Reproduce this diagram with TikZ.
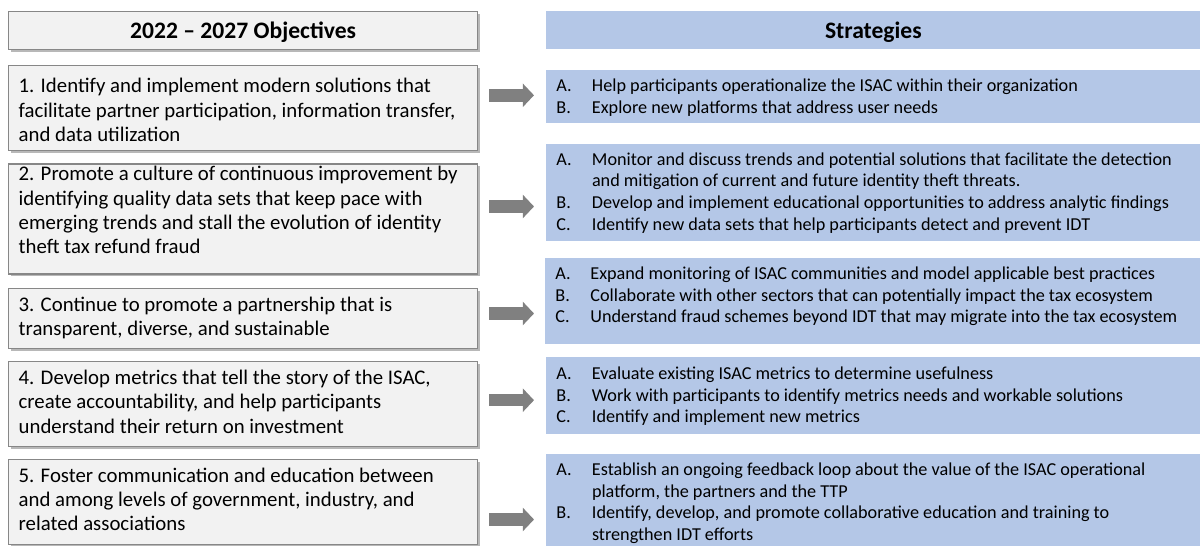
\documentclass[tikz,border=0pt]{standalone}
\usepackage{fontspec}
\setmainfont{Carlito}
\usetikzlibrary{shadows,arrows.meta}
\definecolor{boxfill}{HTML}{F2F2F2}
\definecolor{boxline}{HTML}{878787}
\definecolor{stratfill}{HTML}{B4C7E7}
\definecolor{arrowgray}{HTML}{808080}
\tikzset{
  objbox/.style={draw=boxline, line width=0.65pt, fill=boxfill, anchor=north west, inner sep=0pt,
    drop shadow={shadow xshift=1.2pt, shadow yshift=-1.2pt, fill=black, opacity=0.28}},
  stratbox/.style={fill=stratfill, anchor=north west, inner sep=0pt},
  objtext/.style={anchor=base west, inner sep=0pt, font=\fontsize{10.4}{12.2}\selectfont},
  strattext/.style={anchor=base west, inner sep=0pt, font=\fontsize{9.1}{10.9}\selectfont},
  headtext/.style={inner sep=0pt, font=\fontsize{11.8}{14}\selectfont\bfseries},
  blockarrow/.style={draw=arrowgray, line width=6.2pt, -{Triangle[width=11.5pt, length=5.6pt]}}
}
\begin{document}
\begin{tikzpicture}[x=0.5pt,y=-0.5pt]
\useasboundingbox (0,0) rectangle (1200,546);
% objectives column
\node[objbox, minimum width=234.5pt, minimum height=19pt] (oh) at (8,11) {};
\node[headtext] (ohtext) at ([yshift=-0.8pt]oh.center) {2022 -- 2027 Objectives};
\node[objbox, minimum width=234.5pt, minimum height=42.5pt] (o1) at (8,65) {};
\node[objbox, minimum width=234.5pt, minimum height=55pt] (o2) at (8,163.3) {};
\node[objbox, minimum width=234.5pt, minimum height=30pt] (o3) at (8,287.7) {};
\node[objbox, minimum width=234.5pt, minimum height=42.5pt] (o4) at (8,361) {};
\node[objbox, minimum width=234.5pt, minimum height=42.7pt] (o5) at (8,458.7) {};
\node[objtext] (t1) at (18.3,92.7) {\begin{tabular}[t]{@{}l@{}}1. Identify and implement modern solutions that\\ facilitate partner participation, information transfer,\\ and data utilization\end{tabular}};
\node[objtext] (t2) at (18.3,180.7) {\begin{tabular}[t]{@{}l@{}}2. Promote a culture of continuous improvement by\\ identifying quality data sets that keep pace with\\ emerging trends and stall the evolution of identity\\ theft tax refund fraud\end{tabular}};
\node[objtext] (t3) at (18.3,311) {\begin{tabular}[t]{@{}l@{}}3. Continue to promote a partnership that is\\ transparent, diverse, and sustainable\end{tabular}};
\node[objtext] (t4) at (18.3,384.3) {\begin{tabular}[t]{@{}l@{}}4. Develop metrics that tell the story of the ISAC,\\ create accountability, and help participants\\ understand their return on investment\end{tabular}};
\node[objtext] (t5) at (18.3,482) {\begin{tabular}[t]{@{}l@{}}5. Foster communication and education between\\ and among levels of government, industry, and\\ related associations\end{tabular}};
% strategies column
\node[stratbox, minimum width=330pt, minimum height=19pt] (sh) at (546,11) {};
\node[headtext] (shtext) at ([xshift=-1.5pt,yshift=-0.8pt]sh.center) {Strategies};
\node[stratbox, minimum width=330pt, minimum height=26.7pt] (s1) at (546,69.3) {};
\node[stratbox, minimum width=330pt, minimum height=48.5pt] (s2) at (546,143.3) {};
\node[stratbox, minimum width=330pt, minimum height=43pt] (s3) at (545,257.3) {};
\node[stratbox, minimum width=330pt, minimum height=38.2pt] (s4) at (546,357) {};
\node[stratbox, minimum width=330pt, minimum height=48pt] (s5) at (546,453.3) {};
\node[strattext] (u1) at (556,91.5) {\begin{tabular}[t]{@{}p{17.8pt}@{}l@{}}A. & Help participants operationalize the ISAC within their organization\\ B. & Explore new platforms that address user needs\end{tabular}};
\node[strattext] (u2) at (556,165) {\begin{tabular}[t]{@{}p{17.8pt}@{}l@{}}A. & Monitor and discuss trends and potential solutions that facilitate the detection\\ & and mitigation of current and future identity theft threats.\\ B. & Develop and implement educational opportunities to address analytic findings\\ C. & Identify new data sets that help participants detect and prevent IDT\end{tabular}};
\node[strattext] (u3) at (555,279.3) {\begin{tabular}[t]{@{}p{17.5pt}@{}l@{}}A. & Expand monitoring of ISAC communities and model applicable best practices\\ B. & Collaborate with other sectors that can potentially impact the tax ecosystem\\ C. & Understand fraud schemes beyond IDT that may migrate into the tax ecosystem\end{tabular}};
\node[strattext] (u4) at (556,379.3) {\begin{tabular}[t]{@{}p{17.8pt}@{}l@{}}A. & Evaluate existing ISAC metrics to determine usefulness\\ B. & Work with participants to identify metrics needs and workable solutions\\ C. & Identify and implement new metrics\end{tabular}};
\node[strattext] (u5) at (556,475.3) {\begin{tabular}[t]{@{}p{17.8pt}@{}l@{}}A. & Establish an ongoing feedback loop about the value of the ISAC operational\\ & platform, the partners and the TTP\\ B. & Identify, develop, and promote collaborative education and training to\\ & strengthen IDT efforts\end{tabular}};
% arrows
\draw[blockarrow] ([xshift=5.5pt]o1.east |- 0,95.3) -- ([xshift=-6pt]s1.west |- 0,95.3);
\draw[blockarrow] ([xshift=5.5pt]o2.east |- 0,206.5) -- ([xshift=-6pt]s2.west |- 0,206.5);
\draw[blockarrow] ([xshift=5.5pt]o3.east |- 0,313.5) -- ([xshift=-5.5pt]s3.west |- 0,313.5);
\draw[blockarrow] ([xshift=5.5pt]o4.east |- 0,400.2) -- ([xshift=-6pt]s4.west |- 0,400.2);
\draw[blockarrow] ([xshift=5.5pt]o5.east |- 0,519.5) -- ([xshift=-6pt]s5.west |- 0,519.5);
\end{tikzpicture}
\end{document}
